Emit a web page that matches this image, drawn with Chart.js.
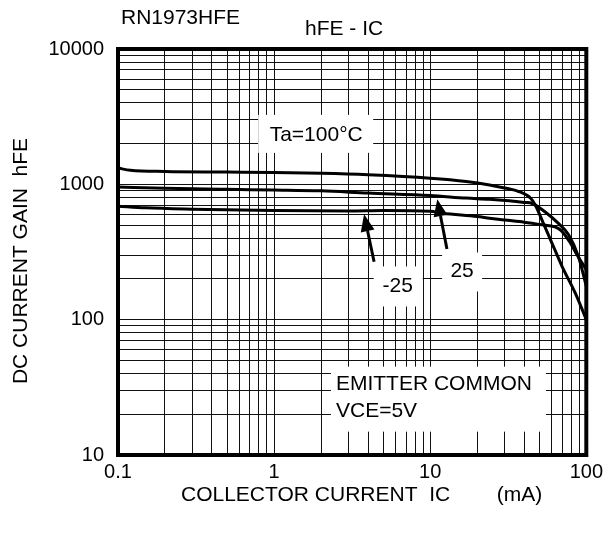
<!DOCTYPE html>
<html>
<head>
<meta charset="utf-8">
<title>hFE - IC</title>
<script src="https://cdn.jsdelivr.net/npm/chart.js@4"></script>
<style>
  html, body { margin: 0; padding: 0; background: #fff; }
  canvas { display: block; }
</style>
</head>
<body>
<canvas id="chart" width="608" height="538"></canvas>
<script>
// axis tick labels (decades)
const xTickLabels = ['0.1', '1', '10', '100'];
const yTickLabels = ['10', '100', '1000', '10000'];

// Ta = 100°C
const ic100  = [0.1, 0.12, 0.2, 0.5, 1, 2, 4, 10, 17, 24, 30, 37, 44, 47, 53, 59, 70, 85, 100];
const hfe100 = [1320, 1270, 1245, 1232, 1222, 1205, 1175, 1110, 1050, 990, 940, 885, 790, 706, 517, 389, 247, 157, 100];

// Ta = 25°C
const ic25  = [0.1, 0.2, 0.5, 1, 2, 4, 10, 17, 24, 32, 40, 45, 54, 66, 77, 89, 100];
const hfe25 = [955, 935, 918, 908, 895, 862, 826, 791, 775, 755, 735, 722, 630, 517, 424, 293, 176];

// Ta = -25°C
const icM25  = [0.1, 0.15, 0.3, 1, 3, 5, 10, 12, 20, 24, 30, 40, 52, 68, 78, 86, 100];
const hfeM25 = [690, 670, 655, 640, 635, 640, 632, 612, 578, 562, 545, 525, 502, 462, 378, 310, 234];

const FONT = "'Liberation Sans', Arial, sans-serif";

// text labels sitting on white patches over the grid
// x, y in data units; box = [left, top, right, bottom] in px around the anchor
const notes = [
  { lines: ['Ta=100°C'], x: 1.86, y: 2320, align: 'center', box: [-58, -20, 57, 18] },
  { lines: ['-25'], x: 6.19, y: 176, align: 'center', box: [-24, -20, 25, 20] },
  { lines: ['25'], x: 16.0, y: 227, align: 'center', box: [-20, -19, 20, 20] },
  { lines: ['EMITTER COMMON', 'VCE=5V'], x: 2.49, y: 33.1, align: 'left', box: [-5, -18, 210, 47] },
];

// pointer arrows (tail -> tip), data units
const arrows = [
  { from: [4.37, 268], to: [3.77, 600] },
  { from: [12.8, 333], to: [11.1, 775] },
];

const toPoints = (xs, ys) => xs.map((x, i) => ({ x, y: ys[i] }));

// 1..9 in every decade -> grid lines
const logGrid = (labels) => {
  const majors = labels.map(Number);
  const vals = [];
  for (let i = 0; i < majors.length - 1; i++) {
    for (let k = 1; k < 10; k++) vals.push(majors[i] * k);
  }
  vals.push(majors[majors.length - 1]);
  return vals;
};

const xMajors = xTickLabels.map(Number);
const yMajors = yTickLabels.map(Number);

const curve = (xs, ys) => ({
  data: toPoints(xs, ys),
  borderColor: '#000',
  borderWidth: 3,
  pointRadius: 0,
  fill: false,
  cubicInterpolationMode: 'monotone',
});

const decorations = {
  id: 'decorations',
  beforeDatasetsDraw(chart) {
    const { ctx, scales: { x, y } } = chart;
    ctx.save();
    ctx.font = `21px ${FONT}`;
    ctx.textBaseline = 'middle';
    notes.forEach(n => {
      const px = x.getPixelForValue(n.x);
      const py = y.getPixelForValue(n.y);
      const [l, t, r, b] = n.box;
      ctx.fillStyle = '#fff';
      ctx.fillRect(px + l, py + t, r - l, b - t);
      ctx.fillStyle = '#000';
      ctx.textAlign = n.align;
      n.lines.forEach((s, i) => ctx.fillText(s, px, py + i * 27));
    });
    ctx.restore();
  },
  afterDatasetsDraw(chart) {
    const { ctx, chartArea: a, scales: { x, y } } = chart;
    ctx.save();
    ctx.strokeStyle = '#000';
    ctx.fillStyle = '#000';
    arrows.forEach(ar => {
      const x0 = x.getPixelForValue(ar.from[0]), y0 = y.getPixelForValue(ar.from[1]);
      const x1 = x.getPixelForValue(ar.to[0]), y1 = y.getPixelForValue(ar.to[1]);
      const ang = Math.atan2(y1 - y0, x1 - x0);
      const len = 17, half = 7;
      const bx = x1 - len * Math.cos(ang), by = y1 - len * Math.sin(ang);
      ctx.lineWidth = 3;
      ctx.beginPath();
      ctx.moveTo(x0, y0);
      ctx.lineTo(bx, by);
      ctx.stroke();
      ctx.beginPath();
      ctx.moveTo(x1, y1);
      ctx.lineTo(bx + half * Math.sin(ang), by - half * Math.cos(ang));
      ctx.lineTo(bx - half * Math.sin(ang), by + half * Math.cos(ang));
      ctx.closePath();
      ctx.fill();
    });
    // heavy plot frame
    ctx.lineWidth = 4;
    ctx.strokeRect(a.left, a.top, a.right - a.left, a.bottom - a.top);
    ctx.restore();
  },
  afterDraw(chart) {
    const { ctx } = chart;
    ctx.save();
    ctx.fillStyle = '#000';
    ctx.font = `21px ${FONT}`;
    ctx.textBaseline = 'middle';
    ctx.textAlign = 'left';
    ctx.fillText('RN1973HFE', 121, 18);
    ctx.fillText('hFE - IC', 305, 29);
    ctx.fillText('COLLECTOR CURRENT  IC        (mA)', 181, 495);
    ctx.translate(21, 261);
    ctx.rotate(-Math.PI / 2);
    ctx.textAlign = 'center';
    ctx.fillText('DC CURRENT GAIN  hFE', 0, 0);
    ctx.restore();
  },
};

new Chart(document.getElementById('chart'), {
  type: 'line',
  data: {
    datasets: [
      curve(ic100, hfe100),
      curve(ic25, hfe25),
      curve(icM25, hfeM25),
    ],
  },
  options: {
    responsive: false,
    animation: false,
    layout: { padding: { left: 0, right: 20, top: 49, bottom: 0 } },
    plugins: {
      legend: { display: false },
      tooltip: { enabled: false },
    },
    scales: {
      x: {
        type: 'logarithmic',
        min: 0.1,
        max: 100,
        afterBuildTicks: (scale) => {
          scale.ticks = logGrid(xTickLabels).map(v => ({ value: v }));
        },
        afterFit: (scale) => { scale.height = 83; },
        grid: { color: '#111', lineWidth: 1, drawTicks: false },
        border: { display: false },
        ticks: {
          autoSkip: false,
          maxRotation: 0,
          padding: 5,
          color: '#000',
          font: { family: FONT, size: 20 },
          callback: (v) => {
            const i = xMajors.findIndex(m => Math.abs(m - v) < 1e-9);
            return i >= 0 ? xTickLabels[i] : '';
          },
        },
      },
      y: {
        type: 'logarithmic',
        min: 10,
        max: 10000,
        afterBuildTicks: (scale) => {
          scale.ticks = logGrid(yTickLabels).map(v => ({ value: v }));
        },
        afterFit: (scale) => { scale.width = 118; },
        grid: { color: '#111', lineWidth: 1, drawTicks: false },
        border: { display: false },
        ticks: {
          autoSkip: false,
          padding: 14,
          color: '#000',
          font: { family: FONT, size: 20 },
          callback: (v) => {
            const i = yMajors.findIndex(m => Math.abs(m - v) < 1e-9);
            return i >= 0 ? yTickLabels[i] : '';
          },
        },
      },
    },
  },
  plugins: [decorations],
});
</script>
</body>
</html>
